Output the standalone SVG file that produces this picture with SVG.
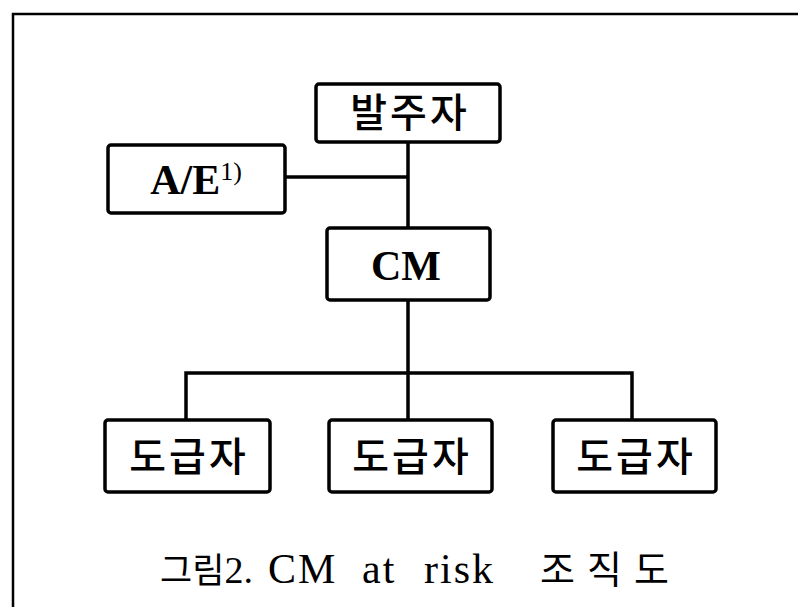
<svg xmlns="http://www.w3.org/2000/svg" width="798" height="607" viewBox="0 0 798 607">
<style>
.box{fill:#fff;stroke:#000;stroke-width:3.5;}
.ln{fill:none;stroke:#000;stroke-width:3.5;}
.kr{font-family:"Noto Sans CJK KR","Noto Sans",sans-serif;font-size:40px;font-weight:500;letter-spacing:3px;text-anchor:middle;fill:#000;}
.en{font-family:"Liberation Serif","Times New Roman",serif;font-weight:bold;font-size:42px;text-anchor:middle;fill:#000;}
.cap{font-family:"Liberation Serif","Noto Sans CJK KR",serif;font-size:42px;letter-spacing:2px;fill:#000;}
.frame{fill:none;stroke:#000;stroke-width:2.5;}
</style>
<rect width="798" height="607" fill="#fff"/>
<path class="frame" d="M13,607 V14 H798"/>
<g id="connectors">
<path class="ln" d="M408,142 V228"/>
<path class="ln" d="M285,177 H408"/>
<path class="ln" d="M408,300 V373"/>
<path class="ln" d="M186,420 V373 H632 V420"/>
<path class="ln" d="M408,373 V420"/>
</g>
<g id="n-owner"><rect class="box" x="316" y="84" width="184" height="58" rx="3"/><text class="kr" x="410" y="127">발주자</text></g>
<g id="n-ae"><rect class="box" x="108" y="145" width="177" height="68" rx="3"/><text class="en" x="196" y="194">A/E<tspan font-size="26" font-weight="normal" dy="-14">1)</tspan></text></g>
<g id="n-cm"><rect class="box" x="327" y="228" width="163" height="72" rx="3"/><text class="en" x="406" y="280" font-size="46">CM</text></g>
<g id="n-c1"><rect class="box" x="105" y="420" width="165" height="72" rx="3"/><text class="kr" x="189" y="471">도급자</text></g>
<g id="n-c2"><rect class="box" x="329" y="420" width="163" height="72" rx="3"/><text class="kr" x="412" y="471">도급자</text></g>
<g id="n-c3"><rect class="box" x="553" y="420" width="163" height="72" rx="3"/><text class="kr" x="636" y="471">도급자</text></g>
<text class="cap" y="583"><tspan x="160" font-size="35" letter-spacing="0">그림</tspan><tspan font-size="38" letter-spacing="0">2.</tspan><tspan x="268">CM</tspan><tspan x="362">at</tspan><tspan x="424">risk</tspan><tspan x="540" font-size="38" letter-spacing="12">조직도</tspan></text>
</svg>
